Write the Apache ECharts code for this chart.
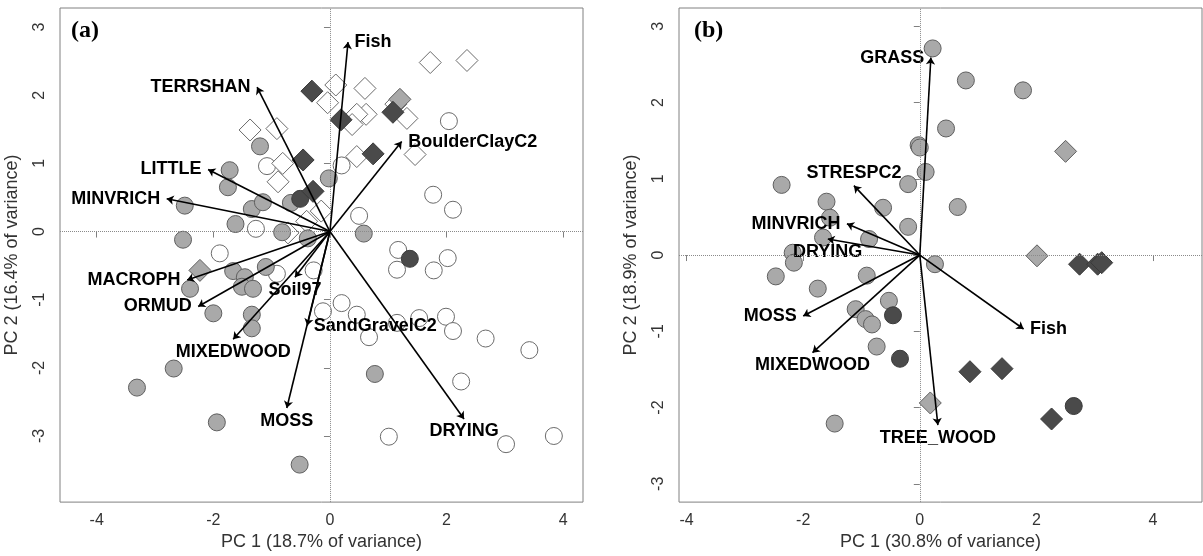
<!DOCTYPE html>
<html><head><meta charset="utf-8">
<script src="https://cdn.jsdelivr.net/npm/echarts@6/dist/echarts.min.js"></script>
<style>html,body{margin:0;padding:0;background:#fff}#c{width:1203px;height:556px}</style>
</head><body><div id="c"></div>
<script>
// ---------- tick labels ----------
const xTicks = [-4, -2, 0, 2, 4];
const yTicks = [-3, -2, -1, 0, 1, 2, 3];

// ---------- panel (a) sample scores ----------
const aWhiteCircles = [[-1.08,0.96],[-1.27,0.04],[-1.89,-0.32],[-0.91,-0.62],[-0.28,-0.57],[-0.12,-1.17],[0.20,-1.05],[0.46,-1.22],[1.15,-1.34],[1.53,-1.27],[1.99,-1.25],[2.11,-1.46],[0.67,-1.55],[2.67,-1.57],[3.42,-1.74],[2.25,-2.20],[1.01,-3.01],[3.02,-3.12],[3.84,-3.00],[1.17,-0.27],[2.02,-0.39],[1.15,-0.56],[1.78,-0.57],[0.20,0.97],[1.77,0.54],[2.11,0.32],[0.50,0.23],[2.04,1.62]];
const aWhiteDiamonds = [[-1.37,1.49],[-0.91,1.51],[-0.81,1.00],[-0.89,0.73],[0.10,2.15],[-0.04,1.89],[0.60,2.10],[1.72,2.48],[2.35,2.51],[1.13,1.87],[1.32,1.66],[0.62,1.72],[0.46,1.72],[0.38,1.57],[0.46,1.10],[1.46,1.13],[-0.72,-0.02],[-0.15,0.30],[-0.40,0.15]];
const aGrayCircles = [[-1.20,1.25],[-1.72,0.90],[-1.75,0.65],[-2.49,0.38],[-1.34,0.33],[-1.15,0.43],[-1.62,0.11],[-2.52,-0.12],[-0.67,0.42],[-0.82,-0.01],[-0.38,-0.10],[-1.66,-0.58],[-1.46,-0.67],[-1.10,-0.52],[-1.51,-0.81],[-1.32,-0.84],[-2.40,-0.84],[-2.00,-1.20],[-1.34,-1.22],[-1.34,-1.42],[-2.68,-2.01],[-3.31,-2.29],[-1.94,-2.80],[-0.52,-3.42],[0.77,-2.09],[-0.02,0.78],[0.58,-0.03]];
const aGrayDiamonds = [[1.20,1.94],[-2.23,-0.57]];
const aDarkCircles = [[-0.51,0.48],[1.37,-0.40]];
const aDarkDiamonds = [[-0.31,2.06],[-0.46,1.05],[0.19,1.64],[1.08,1.75],[0.74,1.14],[-0.29,0.59]];

// ---------- panel (a) variable loadings ----------
const aVarNames = ['Fish','TERRSHAN','BoulderClayC2','LITTLE','MINVRICH','MACROPH','ORMUD','MIXEDWOOD','Soil97','SandGravelC2','MOSS','DRYING'];
const aVarX = [0.31,-1.25,1.23,-2.09,-2.80,-2.45,-2.26,-1.66,-0.60,-0.39,-0.74,2.30];
const aVarY = [2.78,2.12,1.32,0.91,0.48,-0.71,-1.10,-1.58,-0.67,-1.38,-2.59,-2.75];

// ---------- panel (b) sample scores ----------
const bGrayCircles = [[0.22,2.71],[0.79,2.29],[1.77,2.16],[0.45,1.66],[-0.02,1.44],[0.00,1.41],[0.10,1.09],[-0.20,0.93],[0.65,0.63],[-0.20,0.37],[0.26,-0.12],[-2.37,0.92],[-1.60,0.70],[-1.54,0.49],[-1.66,0.23],[-0.63,0.62],[-0.87,0.21],[-2.18,0.03],[-2.16,-0.10],[-2.47,-0.28],[-1.75,-0.44],[-0.91,-0.27],[-0.53,-0.60],[-1.10,-0.71],[-0.93,-0.84],[-0.82,-0.91],[-0.74,-1.20],[-1.46,-2.21]];
const bGrayDiamonds = [[2.50,1.36],[2.01,-0.01],[0.18,-1.94]];
const bDarkCircles = [[-0.46,-0.79],[-0.34,-1.36],[2.64,-1.98]];
const bDarkDiamonds = [[2.74,-0.12],[3.05,-0.12],[3.12,-0.10],[0.86,-1.53],[1.41,-1.49],[2.26,-2.15]];

// ---------- panel (b) variable loadings ----------
const bVarNames = ['GRASS','STRESPC2','MINVRICH','DRYING','MOSS','MIXEDWOOD','Fish','TREE_WOOD'];
const bVarX = [0.19,-1.13,-1.25,-1.58,-2.00,-1.84,1.78,0.31];
const bVarY = [2.59,0.91,0.41,0.21,-0.80,-1.28,-0.97,-2.23];

// ---------- label placement (style) ----------
const aLabelSide = ['right','left','right','left','left','left','left','bottom','bottom','right','bottom','bottom'];
const bLabelSide = ['left','top','left','bottom','left','bottom','right','bottom'];

const SANS = 'Liberation Sans';
const AXIS_TEXT = '#333333';
const BOX = '#808080';

function xAxisCfg(gi, min, max, name) {
  return {
    type: 'value', gridIndex: gi, min: min, max: max, name: name,
    nameLocation: 'middle', nameGap: 28,
    nameTextStyle: { fontFamily: SANS, fontSize: 18, color: AXIS_TEXT },
    axisLine: { show: false }, splitLine: { show: false },
    axisTick: { show: true, inside: false, length: 6, customValues: xTicks, lineStyle: { color: BOX } },
    axisLabel: { customValues: xTicks, fontFamily: SANS, fontSize: 16, color: AXIS_TEXT, margin: 10 }
  };
}
function yAxisCfg(gi, min, max, name) {
  return {
    type: 'value', gridIndex: gi, min: min, max: max, name: name,
    nameLocation: 'middle', nameGap: 39,
    nameTextStyle: { fontFamily: SANS, fontSize: 18, color: AXIS_TEXT },
    axisLine: { show: false }, splitLine: { show: false },
    axisTick: { show: true, inside: false, length: 6, customValues: yTicks, lineStyle: { color: BOX } },
    axisLabel: { customValues: yTicks, rotate: 90, fontFamily: SANS, fontSize: 16, color: AXIS_TEXT, margin: 12 }
  };
}

const FILL = { white: '#ffffff', gray: '#a9a9a9', dark: '#4a4a4a' };
const EDGE = { white: '#6b6b6b', gray: '#5f5f5f', dark: '#3a3a3a' };

function pts(gi, data, shade, shape) {
  return {
    type: 'scatter', xAxisIndex: gi, yAxisIndex: gi, data: data,
    symbol: shape, symbolSize: shape === 'diamond' ? 22 : 17,
    itemStyle: { color: FILL[shade], borderColor: EDGE[shade], borderWidth: 1, opacity: 1 },
    silent: true, z: 2
  };
}
function zeroLines(gi) {
  return {
    type: 'scatter', xAxisIndex: gi, yAxisIndex: gi, data: [],
    markLine: {
      silent: true, symbol: 'none', animation: false,
      label: { show: false },
      lineStyle: { type: 'dotted', color: '#8a8a8a', width: 1 },
      data: [{ xAxis: 0 }, { yAxis: 0 }]
    }, z: 1
  };
}
function arrows(gi, xs, ys) {
  return {
    type: 'lines', coordinateSystem: 'cartesian2d', xAxisIndex: gi, yAxisIndex: gi,
    data: xs.map((x, i) => ({ coords: [[0, 0], [x, ys[i]]] })),
    symbol: ['none', 'arrow'], symbolSize: 7,
    lineStyle: { color: '#000000', width: 1.6, opacity: 1 },
    silent: true, z: 5
  };
}
function varLabels(gi, names, xs, ys, sides) {
  const dist = { left: 6, right: 6, top: 3, bottom: 3 };
  return {
    type: 'scatter', xAxisIndex: gi, yAxisIndex: gi,
    symbolSize: 1, itemStyle: { color: '#ffffff', opacity: 1 },
    data: names.map((n, i) => ({
      value: [xs[i], ys[i]], name: n,
      label: { position: sides[i], distance: dist[sides[i]] }
    })),
    label: {
      show: true, formatter: p => p.name, opacity: 1,
      fontFamily: SANS, fontWeight: 'bold', fontSize: 18, color: '#000000',
      textBorderWidth: 0
    },
    silent: true, z: 4
  };
}

const chart = echarts.init(document.getElementById('c'), null, { renderer: 'canvas' });
chart.setOption({
  animation: false,
  backgroundColor: '#ffffff',
  title: [
    { text: '(a)', left: 71, top: 19, padding: 0, textStyle: { fontFamily: 'Liberation Serif', fontWeight: 'bold', fontSize: 24, color: '#000' } },
    { text: '(b)', left: 694, top: 19, padding: 0, textStyle: { fontFamily: 'Liberation Serif', fontWeight: 'bold', fontSize: 24, color: '#000' } }
  ],
  grid: [
    { left: 60, top: 8, width: 523, height: 500, show: true, borderColor: BOX, borderWidth: 1, backgroundColor: 'transparent' },
    { left: 679, top: 8, width: 523, height: 500, show: true, borderColor: BOX, borderWidth: 1, backgroundColor: 'transparent' }
  ],
  xAxis: [
    xAxisCfg(0, -4.63, 4.34, 'PC 1 (18.7% of variance)'),
    xAxisCfg(1, -4.13, 4.84, 'PC 1 (30.8% of variance)')
  ],
  yAxis: [
    yAxisCfg(0, -3.97, 3.28, 'PC 2 (16.4% of variance)'),
    yAxisCfg(1, -3.24, 3.24, 'PC 2 (18.9% of variance)')
  ],
  series: [
    zeroLines(0),
    pts(0, aWhiteCircles, 'white', 'circle'),
    pts(0, aWhiteDiamonds, 'white', 'diamond'),
    pts(0, aGrayCircles, 'gray', 'circle'),
    pts(0, aGrayDiamonds, 'gray', 'diamond'),
    pts(0, aDarkCircles, 'dark', 'circle'),
    pts(0, aDarkDiamonds, 'dark', 'diamond'),
    arrows(0, aVarX, aVarY),
    varLabels(0, aVarNames, aVarX, aVarY, aLabelSide),
    zeroLines(1),
    pts(1, bGrayCircles, 'gray', 'circle'),
    pts(1, bGrayDiamonds, 'gray', 'diamond'),
    pts(1, bDarkCircles, 'dark', 'circle'),
    pts(1, bDarkDiamonds, 'dark', 'diamond'),
    arrows(1, bVarX, bVarY),
    varLabels(1, bVarNames, bVarX, bVarY, bLabelSide)
  ]
});
</script></body></html>
